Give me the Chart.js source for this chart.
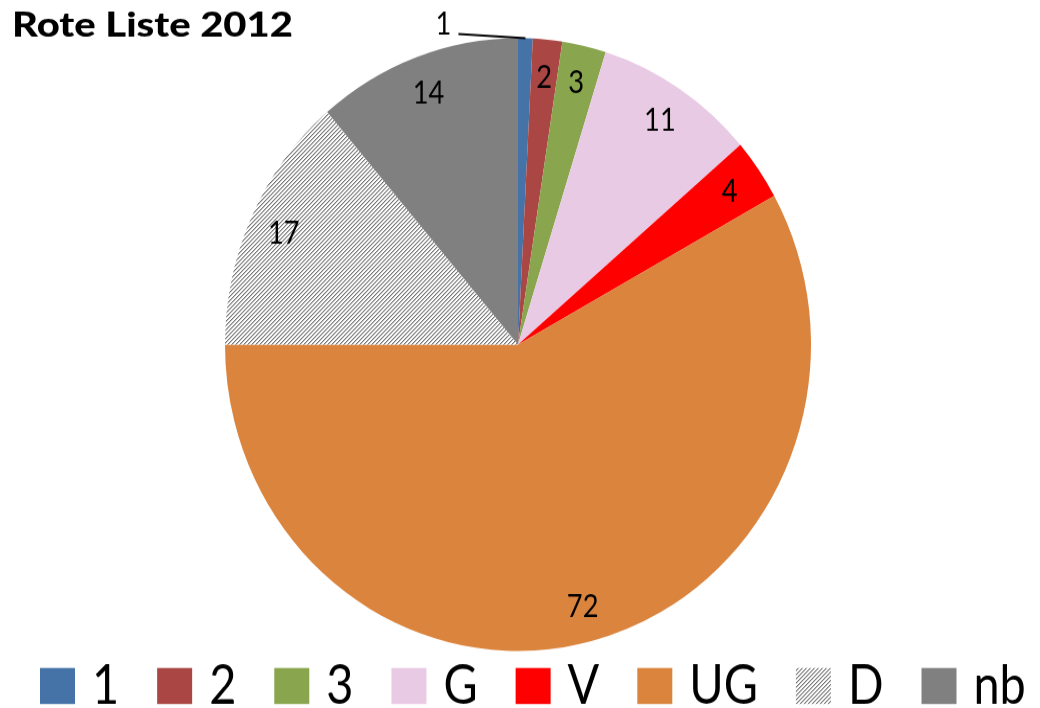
<!DOCTYPE html>
<html>
<head>
<meta charset="utf-8">
<script src="https://cdn.jsdelivr.net/npm/chart.js@4.4.0/dist/chart.umd.min.js"></script>
<style>
  html, body { margin: 0; padding: 0; background: #fff; overflow: hidden; }
  #wrap { width: 1040px; height: 708px; position: relative; }
  /* the chart is drawn on a slightly shorter canvas and stretched vertically */
  #c { position: absolute; left: 0; top: 0; transform-origin: 0 0; transform: scaleY(1.0458); }
</style>
</head>
<body>
<div id="wrap"><canvas id="c" width="1040" height="677"></canvas></div>
<script>
// Red list categories and number of species per category
const categories = ['1', '2', '3', 'G', 'V', 'UG', 'D', 'nb'];
const counts = [1, 2, 3, 11, 4, 72, 17, 14];
const chartTitle = 'Rote Liste 2012';

const FONT = 'Lato, "Open Sans", "DejaVu Sans", sans-serif';

// diagonal hatch used for category D
function makeHatch() {
  const s = 4;
  const tile = document.createElement('canvas');
  tile.width = s; tile.height = s;
  const g = tile.getContext('2d');
  const img = g.createImageData(s, s);
  for (let y = 0; y < s; y++) {
    for (let x = 0; x < s; x++) {
      const k = (x + y) % s;
      const v = k === 0 ? 115 : (k === 1 ? 195 : 255);
      const p = (y * s + x) * 4;
      img.data[p] = v; img.data[p + 1] = v; img.data[p + 2] = v; img.data[p + 3] = 255;
    }
  }
  g.putImageData(img, 0, 0);
  return document.getElementById('c').getContext('2d').createPattern(tile, 'repeat');
}
const hatch = makeHatch();
const sliceColors = ['#4572A7', '#AA4643', '#89A54E', '#E9CAE4', '#FF0000', '#DB843D', hatch, '#808080'];

const total = counts.reduce((a, b) => a + b, 0);

function condensedText(ctx, text, x, y, sx, align) {
  ctx.save();
  ctx.translate(x, y);
  ctx.scale(sx, 1);
  ctx.textAlign = align || 'left';
  ctx.textBaseline = 'alphabetic';
  ctx.fillText(text, 0, 0);
  ctx.restore();
}

// value labels inside each slice (outside with a leader line for tiny slices)
const sliceLabels = {
  id: 'sliceLabels',
  afterDatasetsDraw(chart) {
    const ctx = chart.ctx;
    const meta = chart.getDatasetMeta(0);
    const fs = 31;
    ctx.save();
    ctx.fillStyle = '#000';
    ctx.font = fs + 'px ' + FONT;
    meta.data.forEach((arc, i) => {
      const p = arc.getProps(['x', 'y', 'startAngle', 'endAngle', 'outerRadius'], true);
      const mid = (p.startAngle + p.endAngle) / 2;
      const txt = String(counts[i]);
      const half = fs * 0.36;
      if (counts[i] / total < 0.01) {
        const ex = p.x + Math.cos(mid) * p.outerRadius;
        const ey = p.y + Math.sin(mid) * p.outerRadius;
        const lx = ex - 67, ly = ey - 4;
        ctx.strokeStyle = '#000';
        ctx.lineWidth = 1.8;
        ctx.beginPath();
        ctx.moveTo(lx, ly);
        ctx.lineTo(ex, ey);
        ctx.stroke();
        condensedText(ctx, txt, lx - 7, ly + 1, 0.88, 'right');
      } else {
        const r = p.outerRadius * 0.88;
        const cx = p.x + Math.cos(mid) * r;
        const cy = p.y + Math.sin(mid) * r;
        condensedText(ctx, txt, cx, cy + half, 0.88, 'center');
      }
    });
    ctx.restore();
  }
};

// title in the top left corner
const titlePlugin = {
  id: 'cornerTitle',
  afterDraw(chart) {
    const ctx = chart.ctx;
    ctx.save();
    ctx.fillStyle = '#000';
    ctx.font = '900 32px ' + FONT;
    const w = ctx.measureText(chartTitle).width;
    condensedText(ctx, chartTitle, 12, 35.4, 281 / w, 'left');
    ctx.restore();
  }
};

// legend row along the bottom
const legendRow = {
  id: 'legendRow',
  afterDraw(chart) {
    const ctx = chart.ctx;
    const sx = 0.9;
    ctx.save();
    ctx.font = '52px ' + FONT;
    let x = 40;
    const top = 638.7, bw = 35, bh = 34.5, base = 673;
    categories.forEach((c, i) => {
      ctx.fillStyle = sliceColors[i];
      ctx.fillRect(x, top, bw, bh);
      ctx.fillStyle = '#000';
      const tw = ctx.measureText(c).width * sx;
      condensedText(ctx, c, x + bw + 17, base, sx, 'left');
      x += bw + 17 + tw + 38;
    });
    ctx.restore();
  }
};

new Chart(document.getElementById('c'), {
  type: 'pie',
  data: {
    labels: categories,
    datasets: [{
      data: counts,
      backgroundColor: sliceColors,
      borderWidth: 0,
      hoverOffset: 0
    }]
  },
  options: {
    responsive: false,
    animation: false,
    events: [],
    layout: { padding: { left: 225, right: 229, top: 36.4, bottom: 54.6 } },
    plugins: {
      legend: { display: false },
      title: { display: false },
      tooltip: { enabled: false }
    }
  },
  plugins: [sliceLabels, titlePlugin, legendRow]
});
</script>
</body>
</html>
